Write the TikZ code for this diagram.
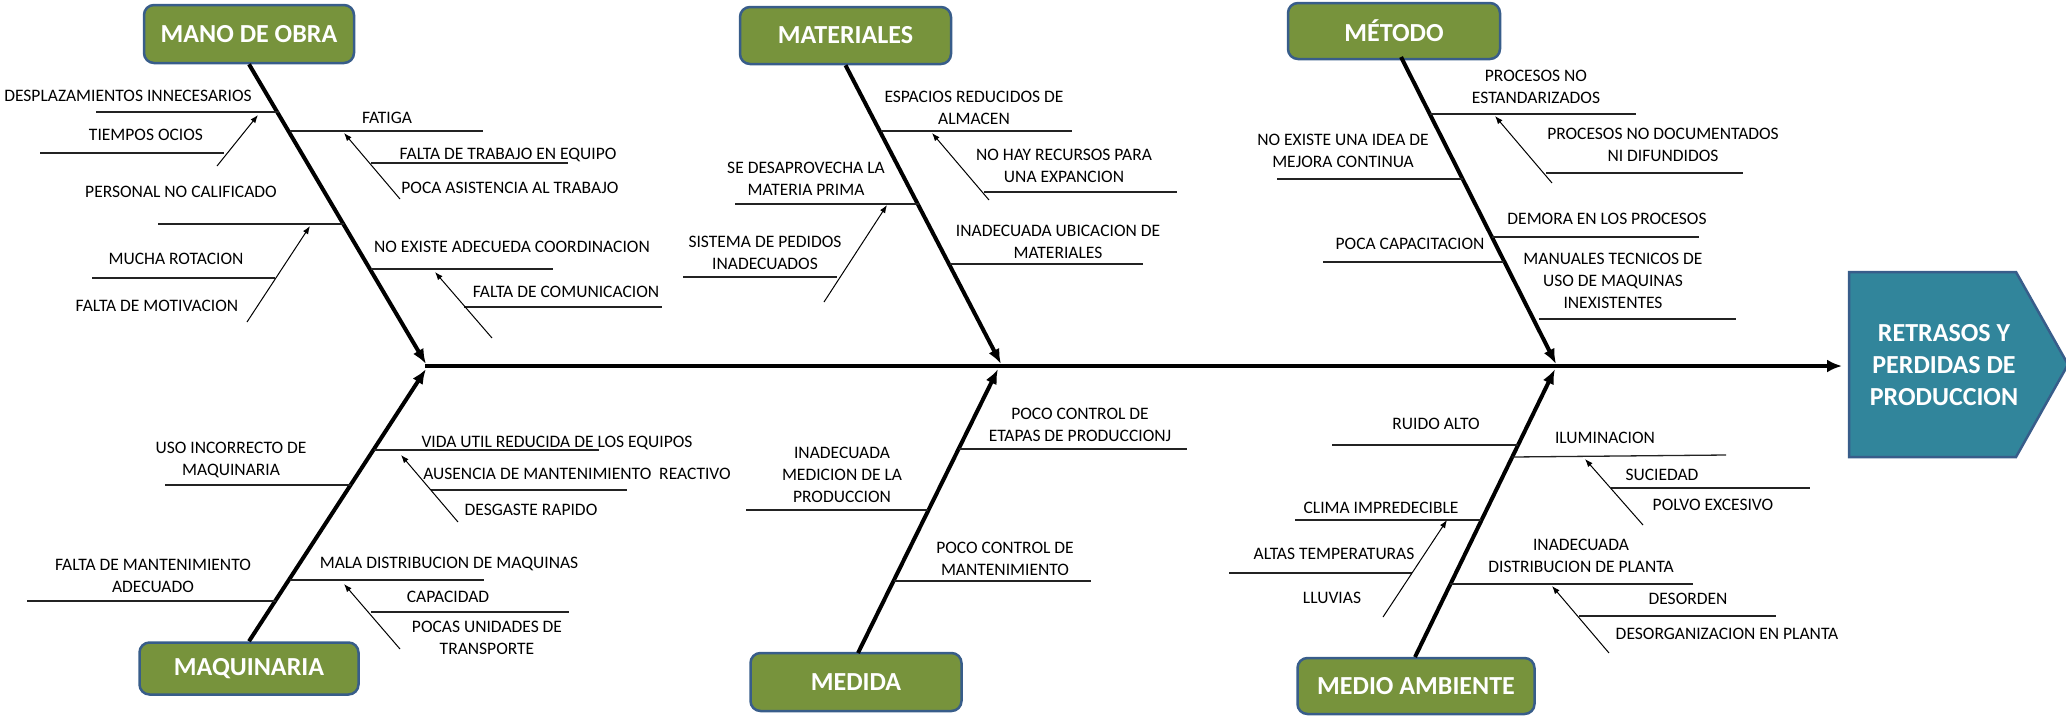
\documentclass[tikz,border=0pt]{standalone}
\usepackage{fontspec}
\setmainfont{Carlito}
\usetikzlibrary{arrows.meta}

\definecolor{catgreen}{RGB}{119,147,60}
\definecolor{catborder}{RGB}{56,93,138}
\definecolor{effectfill}{RGB}{49,133,155}
\definecolor{subline}{RGB}{35,35,35}

\newcommand\lblfont{\fontsize{17.5}{22}\selectfont}
\newcommand\catfont{\fontsize{26}{32}\selectfont\bfseries}

\begin{document}
\begin{tikzpicture}[x=1pt,y=-1pt,
  lbl/.style={font=\lblfont, align=center, anchor=north, inner sep=0pt, text=black},
  sub/.style={line width=1.3pt, draw=subline},
  subarrow/.style={line width=1pt, draw=black, -{Latex[length=8pt,width=6pt]}},
  bone/.style={line width=4pt, draw=black, -{Latex[length=15pt,width=12pt]}},
  spine/.style={line width=4pt, draw=black, -{Latex[length=15pt,width=13pt]}},
  cat/.style={draw=catborder, line width=2.5pt, fill=catgreen, rounded corners=10pt,
              text=white, font=\catfont, inner sep=0pt},
  efftext/.style={font=\catfont, fontsize/.style={}, text=white, align=center, inner sep=0pt}
]
\useasboundingbox (0,0) rectangle (2066,716);

% effect: arrow-shaped box on the right
\filldraw[fill=effectfill, draw=catborder, line width=2.5pt, line join=miter]
  (1849,272) -- (2016,272) -- (2068,364.5) -- (2016,457) -- (1849,457) -- cycle;
\node[efftext] (effect) at (1944,365) {RETRASOS Y\\PERDIDAS DE\\PRODUCCION};

% category boxes
\node[cat, minimum width=210pt, minimum height=58pt] (mano) at (249,34) {MANO DE OBRA};
\node[cat, minimum width=211pt, minimum height=57pt] (mat)  at (845.5,35.5) {MATERIALES};
\node[cat, minimum width=212pt, minimum height=56pt] (met)  at (1394,31) {MÉTODO};
\node[cat, minimum width=219pt, minimum height=52pt] (maq)  at (249,668.5) {MAQUINARIA};
\node[cat, minimum width=211pt, minimum height=58pt] (med)  at (856,682) {MEDIDA};
\node[cat, minimum width=237pt, minimum height=56pt] (amb)  at (1416,686) {MEDIO AMBIENTE};

% spine
\coordinate (head) at (425,366);
\coordinate (tip) at (1842,366);
\draw[spine] (head) -- (tip);

% bone ends on the spine
\coordinate (j1u) at (426,364);  \coordinate (j1d) at (426,369);
\coordinate (j2u) at (1001,364); \coordinate (j2d) at (998,369);
\coordinate (j3u) at (1556,364); \coordinate (j3d) at (1555,369);

\draw[bone] (mano.south) -- (j1u);
\draw[bone] (mat.south)  -- (j2u);
\draw[bone] (1401,57)    -- (j3u);
\draw[bone] (maq.north)  -- (j1d);
\draw[bone] (858,653)    -- (j2d);
\draw[bone] (1415,657)   -- (j3d);

% ---- MANO DE OBRA ----
\draw[sub] (96,112) -- (279,112);
\draw[sub] (40,153) -- (224,153);
\draw[sub] (158,224) -- (344,224);
\draw[sub] (92,278) -- (275,278);
\draw[sub] (290,131) -- (483,131);
\draw[sub] (371,163) -- (568,163);
\draw[sub] (371,269) -- (553,269);
\draw[sub] (464,307) -- (662,307);
\draw[subarrow] (217,166) -- (258,115);
\draw[subarrow] (247,322) -- (310,226);
\draw[subarrow] (400,199) -- (344,133);
\draw[subarrow] (492,338) -- (435,272);
\node[lbl] (m1) at (128,89.5)  {DESPLAZAMIENTOS INNECESARIOS};
\node[lbl] (m2) at (146,128.5) {TIEMPOS OCIOS};
\node[lbl] (m3) at (181,185.5) {PERSONAL NO CALIFICADO};
\node[lbl] (m4) at (176,252.5) {MUCHA ROTACION};
\node[lbl] (m5) at (157,299.5) {FALTA DE MOTIVACION};
\node[lbl] (m6) at (387,111.5) {FATIGA};
\node[lbl] (m7) at (508,147.5) {FALTA DE TRABAJO EN EQUIPO};
\node[lbl] (m8) at (510,181.5) {POCA ASISTENCIA AL TRABAJO};
\node[lbl] (m9) at (512,240.5) {NO EXISTE ADECUEDA COORDINACION};
\node[lbl] (m10) at (566,285.5) {FALTA DE COMUNICACION};

% ---- MATERIALES ----
\draw[sub] (881,131) -- (1072,131);
\draw[sub] (984,192) -- (1177,192);
\draw[sub] (950,264) -- (1143,264);
\draw[sub] (735,204) -- (919,204);
\draw[sub] (683,277) -- (837,277);
\draw[subarrow] (989,200) -- (932,133);
\draw[subarrow] (824,302) -- (887,205);
\node[lbl] (t1) at (974,90.5)   {ESPACIOS REDUCIDOS DE\\ALMACEN};
\node[lbl] (t2) at (1064,148.5) {NO HAY RECURSOS PARA\\UNA EXPANCION};
\node[lbl] (t3) at (1058,224.5) {INADECUADA UBICACION DE\\MATERIALES};
\node[lbl] (t4) at (806,161.5)  {SE DESAPROVECHA LA\\MATERIA PRIMA};
\node[lbl] (t5) at (765,235.5)  {SISTEMA DE PEDIDOS\\INADECUADOS};

% ---- METODO ----
\draw[sub] (1430,114) -- (1636,114);
\draw[sub] (1546,173) -- (1743,173);
\draw[sub] (1492,237) -- (1699,237);
\draw[sub] (1539,319) -- (1736,319);
\draw[sub] (1277,179) -- (1463,179);
\draw[sub] (1323,262) -- (1504,262);
\draw[subarrow] (1552,183) -- (1495,116);
\node[lbl] (d1) at (1536,69.5)  {PROCESOS NO\\ESTANDARIZADOS};
\node[lbl] (d2) at (1663,127.5) {PROCESOS NO DOCUMENTADOS\\NI DIFUNDIDOS};
\node[lbl] (d3) at (1607,212.5) {DEMORA EN LOS PROCESOS};
\node[lbl] (d4) at (1613,252.5) {MANUALES TECNICOS DE\\USO DE MAQUINAS\\INEXISTENTES};
\node[lbl] (d5) at (1343,133.5) {NO EXISTE UNA IDEA DE\\MEJORA CONTINUA};
\node[lbl] (d6) at (1410,237.5) {POCA CAPACITACION};

% ---- MAQUINARIA ----
\draw[sub] (374,450) -- (599,450);
\draw[sub] (431,490) -- (627,490);
\draw[sub] (290,580) -- (484,580);
\draw[sub] (371,612) -- (569,612);
\draw[sub] (165,485) -- (351,485);
\draw[sub] (27,601) -- (276,601);
\draw[subarrow] (458,522) -- (401,455);
\draw[subarrow] (400,649) -- (344,584);
\node[lbl] (q1) at (557,435.5) {VIDA UTIL REDUCIDA DE LOS EQUIPOS};
\node[lbl] (q2) at (577,467.5) {AUSENCIA DE MANTENIMIENTO\ \ REACTIVO};
\node[lbl] (q3) at (531,503.5) {DESGASTE RAPIDO};
\node[lbl] (q4) at (449,556.5) {MALA DISTRIBUCION DE MAQUINAS};
\node[lbl] (q5) at (448,590.5) {CAPACIDAD};
\node[lbl] (q6) at (487,620.5) {POCAS UNIDADES DE\\TRANSPORTE};
\node[lbl] (q7) at (231,441.5) {USO INCORRECTO DE\\MAQUINARIA};
\node[lbl] (q8) at (153,558.5) {FALTA DE MANTENIMIENTO\\ADECUADO};

% ---- MEDIDA ----
\draw[sub] (959,449) -- (1187,449);
\draw[sub] (746,510) -- (928,510);
\draw[sub] (894,581) -- (1091,581);
\node[lbl] (e1) at (1080,407.5) {POCO CONTROL DE\\ETAPAS DE PRODUCCIONJ};
\node[lbl] (e2) at (842,446.5)  {INADECUADA\\MEDICION DE LA\\PRODUCCION};
\node[lbl] (e3) at (1005,541.5) {POCO CONTROL DE\\MANTENIMIENTO};

% ---- MEDIO AMBIENTE ----
\draw[sub] (1332,445) -- (1518,445);
\draw[sub] (1295,520) -- (1481,520);
\draw[sub] (1229,573) -- (1412,573);
\draw[sub] (1512,457) -- (1726,455);
\draw[sub] (1611,488) -- (1810,488);
\draw[sub] (1450,584) -- (1693,584);
\draw[sub] (1579,616) -- (1776,616);
\draw[subarrow] (1383,617) -- (1447,520);
\draw[subarrow] (1643,525) -- (1585,459);
\draw[subarrow] (1609,653) -- (1552,586);
\node[lbl] (a1) at (1436,417.5) {RUIDO ALTO};
\node[lbl] (a2) at (1381,501.5) {CLIMA IMPREDECIBLE};
\node[lbl] (a3) at (1334,547.5) {ALTAS TEMPERATURAS};
\node[lbl] (a4) at (1332,591.5) {LLUVIAS};
\node[lbl] (a5) at (1605,431.5) {ILUMINACION};
\node[lbl] (a6) at (1662,468.5) {SUCIEDAD};
\node[lbl] (a7) at (1713,498.5) {POLVO EXCESIVO};
\node[lbl] (a8) at (1581,538.5) {INADECUADA\\DISTRIBUCION DE PLANTA};
\node[lbl] (a9) at (1688,592.5) {DESORDEN};
\node[lbl] (a10) at (1727,627.5) {DESORGANIZACION EN PLANTA};
\end{tikzpicture}
\end{document}
